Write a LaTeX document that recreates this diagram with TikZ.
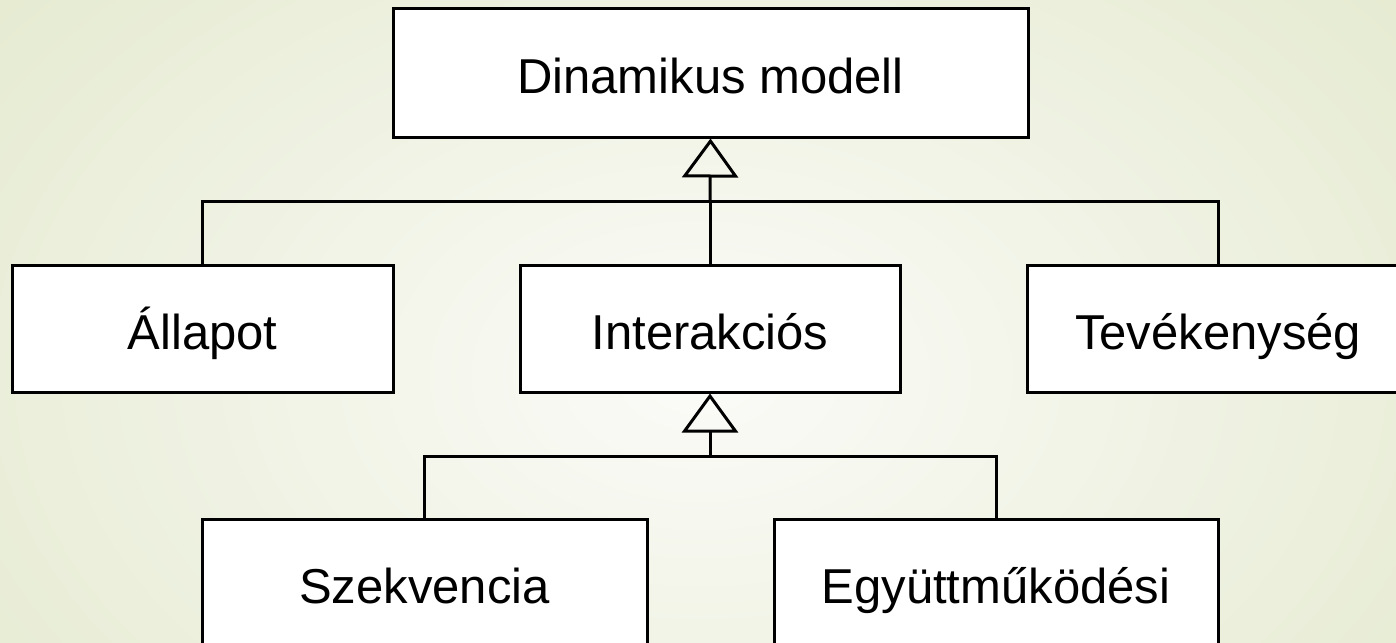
\documentclass[tikz,border=0pt]{standalone}
\usepackage{fontspec}
\setmainfont{Liberation Sans}
\usetikzlibrary{arrows.meta}
\definecolor{bginner}{HTML}{FBFBF8}
\definecolor{bgouter}{HTML}{E3E9CD}
\tikzset{
  umlbox/.style={draw=black, line width=3pt, fill=white, rectangle, inner sep=0pt,
    text height=41pt, text depth=0pt, minimum height=128pt,
    font=\fontsize{49}{56}\selectfont},
  conn/.style={draw=black, line width=3pt},
  gen/.style={conn, -{Triangle[open, length=39pt, width=56pt, line width=3pt]}}
}
\begin{document}
\begin{tikzpicture}[x=1pt, y=-1pt]
\useasboundingbox (0,0) rectangle (1396,642);
\clip (0,0) rectangle (1396,642);
\shade[inner color=bginner, outer color=bgouter] (-300,-300) rectangle (1700,1050);
% boxes
\node[umlbox, minimum width=635pt] (dm)  at (710.5,73)  {Dinamikus modell};
\node[umlbox, minimum width=381pt, minimum height=127pt] (all) at (202.5,328.5) {Állapot};
\node[umlbox, minimum width=380pt, minimum height=127pt] (int) at (710,328.5) {Interakciós};
\node[umlbox, minimum width=382pt, minimum height=127pt] (tev) at (1218,328.5) {Tevékenység};
\node[umlbox, minimum width=445pt] (szk) at (424.5,583) {Szekvencia};
\node[umlbox, minimum width=444pt] (egy) at (996,583) {Együttműködési};
% hubs
\coordinate (h1) at (710,201);
\coordinate (h2) at (710,456);
% first generalisation
\draw[conn] (all.north) |- (h1) -| (tev.north);
\draw[conn] (int.north) -- (h1);
\draw[gen] (h1) -- (dm.south);
% second generalisation
\draw[conn] (szk.north) |- (h2) -| (egy.north);
\draw[gen] (h2) -- (int.south);
\end{tikzpicture}
\end{document}
